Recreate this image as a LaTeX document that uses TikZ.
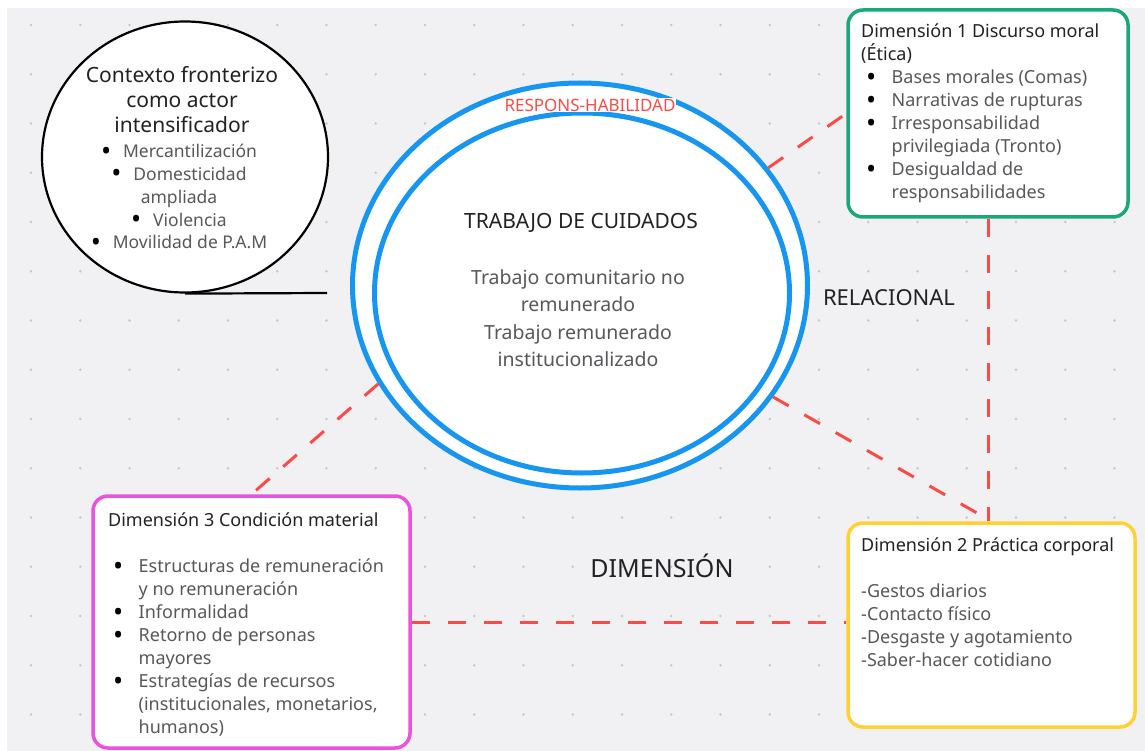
\documentclass[tikz,border=0pt]{standalone}
\usepackage{fontspec}
\setmainfont{Noto Sans}
\usepackage{tikz}
\usepackage{xcolor}
\usetikzlibrary{
    shapes.geometric
}

\definecolor{fondo}{RGB}{241,241,244}
\definecolor{puntos}{RGB}{198,198,204}
\definecolor{azul}{RGB}{22,150,240}
\definecolor{rojo}{RGB}{250,76,70}
\definecolor{verde}{RGB}{26,168,122}
\definecolor{amarillo}{RGB}{255,210,50}
\definecolor{rosa}{RGB}{236,82,220}
\definecolor{tinta}{RGB}{34,34,38}
\definecolor{gris}{RGB}{88,88,92}

\newcommand{\punto}{\smash{\raisebox{-2.4pt}{\fontsize{27}{23}\selectfont\color{black}\textbullet}}}
\newcommand{\vineta}{\makebox[30.5pt][l]{\hspace{5pt}\punto}}
\newcommand{\vinetac}{\makebox[22pt][l]{\punto}}
\newcommand{\sigue}{\hspace*{30.5pt}}

\tikzset{
    caja/.style={draw, rectangle, rounded corners=15, line width=3.5, fill=white, inner sep=0},
    texto/.style={align=left, inner sep=0, text=gris, font=\fontsize{18}{23}\selectfont},
    enlace/.style={draw=rojo, line width=3, dash pattern=on 18 off 18}
}

\begin{document}
\begin{tikzpicture}[x=1pt, y=-1pt]
                \useasboundingbox (0,0) rectangle (1145,751);
                \fill[white] (0,0) rectangle (1145,751);
                \fill[fondo] (7,8) rectangle (1145,751);
                \foreach \i in {0,...,22}{
                    \foreach \j in {0,...,14}{
                        \fill[puntos] ({31+49.25*\i},{25+49.25*\j}) circle (1.3);
                    }
                }

                \node[draw=black, ellipse, line width=2.2, fill=white, minimum width=286, minimum height=271, inner sep=0] (contexto) at (185,157) {};
                \coordinate (cabo) at (327,293);
                \draw[line width=2.2] (contexto.south) -- (cabo);

                \node[draw=azul, ellipse, line width=5, fill=white, minimum width=455, minimum height=405, inner sep=0] (anillo) at (580,285.5) {};
                \node[draw=azul, ellipse, line width=5, minimum width=415, minimum height=360, inner sep=0] (cuidados) at (582,293) {};

                \node[caja, draw=verde, minimum width=280, minimum height=207] (dimuno) at (988,113.5) {};
                \node[caja, draw=amarillo, minimum width=287, minimum height=204] (dimdos) at (991.5,625) {};
                \node[caja, draw=rosa, minimum width=317, minimum height=252] (dimtres) at (251.5,622) {};

                \draw[enlace] (anillo.32.5) -- (dimuno.west);
                \draw[enlace] (dimuno.south) -- (dimuno.south |- dimdos.north);
                \draw[enlace] (anillo.330.5) -- (dimdos.north);
                \draw[enlace] (anillo.206) -- (dimtres.north);
                \draw[enlace] (dimtres.east) -- (dimtres.east -| dimdos.west);

                \node[align=center, inner sep=0, text=tinta, font=\fontsize{21}{25}\selectfont, anchor=north] (contextotit) at (182,66) {Contexto fronterizo\\como actor\\intensificador};
                \node[align=center, inner sep=0, text=gris, font=\fontsize{17.5}{22.8}\selectfont, anchor=north] (contextolista) at (179,144) {\vinetac Mercantilización\\\vinetac Domesticidad\\ampliada\\\vinetac Violencia\\\vinetac Movilidad de P.A.M};

                \node[fill=white, inner sep=1, text=rojo, font=\fontsize{17}{18}\selectfont] (respons) at (590,105) {RESPONS-HABILIDAD};
                \node[inner sep=0, text=tinta, font=\fontsize{21}{25}\selectfont] (cuidadostit) at (581,223) {TRABAJO DE CUIDADOS};
                \node[align=center, inner sep=0, text=gris, font=\fontsize{19.5}{27.6}\selectfont, anchor=north] (cuidadoslista) at (578,269) {Trabajo comunitario no\\remunerado\\Trabajo remunerado\\institucionalizado};

                \node[texto, anchor=north west] (listauno) at (861,24) {{\color{tinta}Dimensión 1 Discurso moral}\\{\color{tinta}(Ética)}\\\vineta Bases morales (Comas)\\\vineta Narrativas de rupturas\\\vineta Irresponsabilidad\\\sigue privilegiada (Tronto)\\\vineta Desigualdad de\\\sigue responsabilidades};
                \node[texto, anchor=north west] (listados) at (861,538) {{\color{tinta}Dimensión 2 Práctica corporal}\\\mbox{}\\-Gestos diarios\\-Contacto físico\\-Desgaste y agotamiento\\-Saber-hacer cotidiano};
                \node[texto, anchor=north west] (listatres) at (108,513) {{\color{tinta}Dimensión 3 Condición material}\\\mbox{}\\\vineta Estructuras de remuneración\\\sigue y no remuneración\\\vineta Informalidad\\\vineta Retorno de personas\\\sigue mayores\\\vineta Estrategías de recursos\\\sigue (institucionales, monetarios,\\\sigue humanos)};

                \node[inner sep=0, text=tinta, font=\fontsize{22}{24}\selectfont] (relacional) at (889,298) {RELACIONAL};
                \node[inner sep=0, text=tinta, font=\fontsize{25}{28}\selectfont] (dimension) at (662,566) {DIMENSIÓN};
\end{tikzpicture}
\end{document}
